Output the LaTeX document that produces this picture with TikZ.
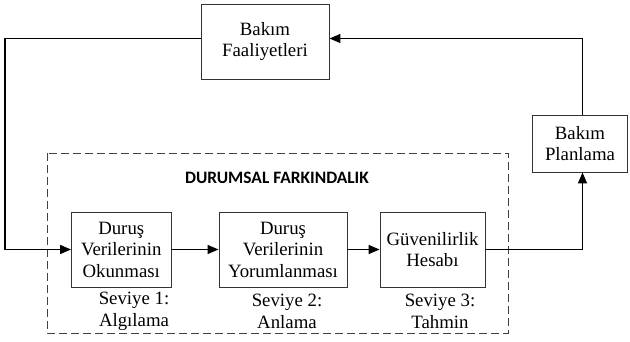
\documentclass[tikz,border=0pt]{standalone}
\usepackage{fontspec}
\setmainfont{Liberation Serif}
\newfontfamily\labfont{Carlito}
\usetikzlibrary{arrows.meta}
\begin{document}
\begin{tikzpicture}[x=1pt,y=-1pt,
  blk/.style={draw=black!80,line width=0.9pt,align=center,font=\fontsize{18.8}{21.5}\selectfont,inner sep=0pt},
  conn/.style={line width=1.4pt,-{Triangle[length=11pt,width=9pt]}},
  lvl/.style={align=center,font=\fontsize{18.8}{22}\selectfont,inner sep=0pt}]
\useasboundingbox (0,0) rectangle (630,342);
% dashed frame
\draw[dash pattern=on 8pt off 4pt,line width=0.9pt,draw=black!75] (47,153) rectangle (508,333);
\node[font=\labfont\bfseries\fontsize{17.4}{19}\selectfont] (title) at (277,178) {DURUMSAL FARKINDALIK};
% blocks
\node[blk,minimum width=128pt,minimum height=75pt] (fa) at (265,41.5) {Bakım\\Faaliyetleri};
\node[blk,minimum width=95pt,minimum height=57pt] (pl) at (580,143.5) {Bakım\\Planlama};
\node[blk,minimum width=99.5pt,minimum height=75pt] (b1) at (121.25,249.5) {Duruş\\Verilerinin\\Okunması};
\node[blk,minimum width=128pt,minimum height=75pt] (b2) at (283,249.5) {Duruş\\Verilerinin\\Yorumlanması};
\node[blk,minimum width=105pt,minimum height=75pt] (b3) at (432.5,249.5) {Güvenilirlik\\Hesabı};
% level labels
\node[lvl] (l1) at (134,311) {Seviye 1:\\Algılama};
\node[lvl] (l2) at (287,311) {Seviye 2:\\Anlama};
\node[lvl] (l3) at (440,311) {Seviye 3:\\Tahmin};
% connectors
\coordinate (c1) at (5,38.5);
\coordinate (c2) at (5,249.5);
\coordinate (c3) at (582.5,249.5);
\coordinate (c4) at (582.5,38.5);
\draw[conn] (fa.west |- c1) -- (c1) -- (c2) -- (b1.west);
\draw[conn] (b1) -- (b2);
\draw[conn] (b2) -- (b3);
\draw[conn] (b3.east) -- (c3) -- (c3 |- pl.south);
\draw[conn] (c4 |- pl.north) -- (c4) -- (fa.east |- c4);
\end{tikzpicture}
\end{document}
